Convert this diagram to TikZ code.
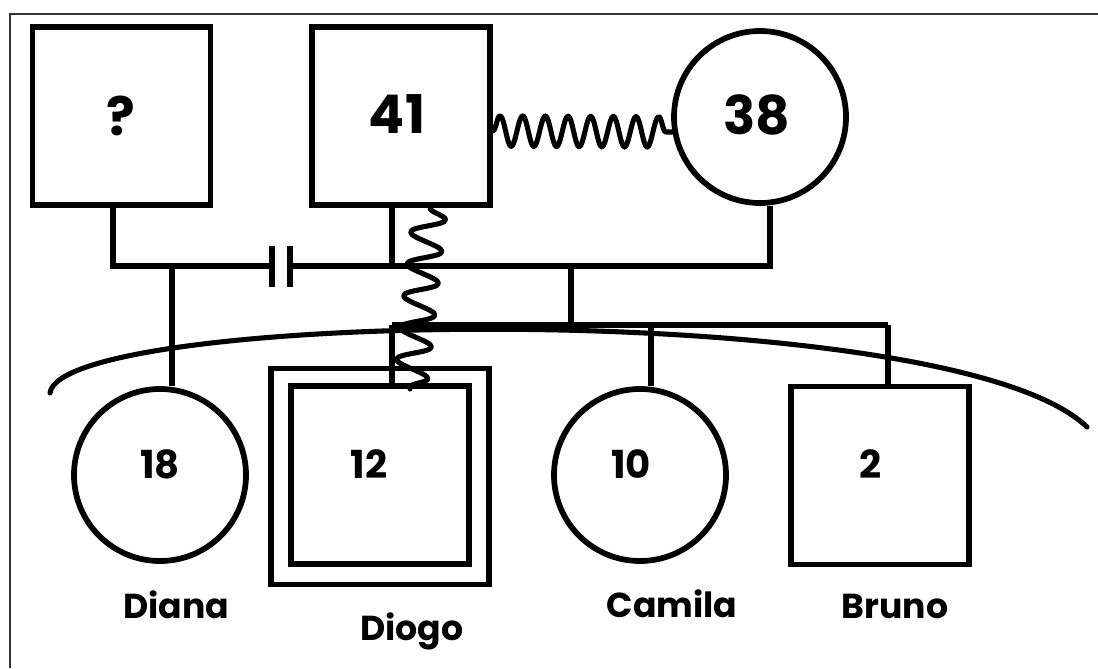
\documentclass[tikz,border=0pt]{standalone}
\usepackage{fontspec}
\setmainfont{Poppins}
\usetikzlibrary{decorations.pathmorphing,calc}
\begin{document}
\begin{tikzpicture}[x=0.75pt,y=-0.75pt,
  line width=4.3pt, line join=miter,
  person/.style={draw, inner sep=0pt, line width=4.3pt},
  male/.style={person, rectangle, minimum width=133.5pt, minimum height=133.5pt},
  female/.style={person, circle, minimum size=129pt},
  bigtxt/.style={anchor=base, inner sep=0pt, font=\fontsize{40}{44}\selectfont\bfseries},
  agetxt/.style={anchor=base, inner sep=0pt, font=\fontsize{29}{32}\selectfont\bfseries},
  nametxt/.style={anchor=base, inner sep=0pt, font=\fontsize{26}{30}\selectfont\bfseries},
  tie/.style={line width=4.3pt},
  conflict/.style={line width=3.8pt, line join=round, line cap=round, decorate},
  frameline/.style={line width=1.5pt, draw=black!80}]
\useasboundingbox (0,0) rectangle (1098,668);

% outer frame
\draw[frameline] (10,668) -- (10,14) -- (1098,14);

% parents' generation
\node[male] (unk) at (121.5,116) {};
\node[male] (father) at (401,116) {};
\node[female] (mother) at (760,117) {};
\node[bigtxt] (tunk) at (121,135) {?};
\node[bigtxt] (tfather) at (397,133) {41};
\node[bigtxt] (tmother) at (757,134) {38};

% children
\node[female] (diana) at (160,475) {};
\node[person, rectangle, minimum width=164pt, minimum height=162pt] (diogoout) at (380,476.5) {};
\node[male] (diogo) at (380,475) {};
\node[female] (camila) at (640,475) {};
\node[male] (bruno) at (880,475.5) {};

\node[agetxt] (tdiana) at (160,478) {18};
\node[agetxt] (tdiogo) at (369,478) {12};
\node[agetxt] (tcamila) at (631,478) {10};
\node[agetxt] (tbruno) at (871,478) {2};

\node[nametxt] (ndiana) at (176,618) {Diana};
\node[nametxt] (ndiogo) at (412,640) {Diogo};
\node[nametxt] (ncamila) at (672,617) {Camila};
\node[nametxt] (nbruno) at (895,618) {Bruno};

% junction points
\coordinate (mL) at (113,266);
\coordinate (d1) at (272,266);
\coordinate (d2) at (290,266);
\coordinate (fJ) at (392,266);
\coordinate (mR) at (770,266);
\coordinate (dJ) at (172,266);
\coordinate (cJ) at (571,266);
\coordinate (cL) at (571,325);
\coordinate (sib1) at (392,325);
\coordinate (sib3) at (651,325);
\coordinate (sib4) at (888,325);

% union line with separation mark
\draw[tie] (unk.south -| mL) -- (mL) -- (d1);
\draw[tie] (d2) -- (mR) -- (mother.south -| mR);
\draw[tie] (father.south -| fJ) -- (fJ);
\draw[tie] ($(d1)+(0,-20)$) -- ($(d1)+(0,21)$);
\draw[tie] ($(d2)+(0,-20)$) -- ($(d2)+(0,21)$);

% descent lines
\draw[tie] (dJ) -- (diana.north -| dJ);
\draw[tie] (cJ) -- (cL);
\draw[tie] (sib1) -- (sib4);
\draw[tie] (sib1) -- (diogo.north -| sib1);
\draw[tie] (sib3) -- (camila.north -| sib3);
\draw[tie] (sib4) -- (bruno.north -| sib4);

% conflictual relationships
\draw[conflict, decoration={snake, amplitude=11.5pt, segment length=17pt}]
  ($(father.east)+(0,15)$) -- ($(mother.west)+(1,15)$);
\coordinate (zTop) at (430,208);
\coordinate (zBot) at (410,389);
\draw[conflict, decoration={snake, amplitude=12.5pt, segment length=24pt}]
  (zTop) -- (zBot);

% household boundary
\draw[line width=3.8pt, line cap=round] (50,393) .. controls (60,310) and (950,295) .. (1087,427);
\end{tikzpicture}
\end{document}
